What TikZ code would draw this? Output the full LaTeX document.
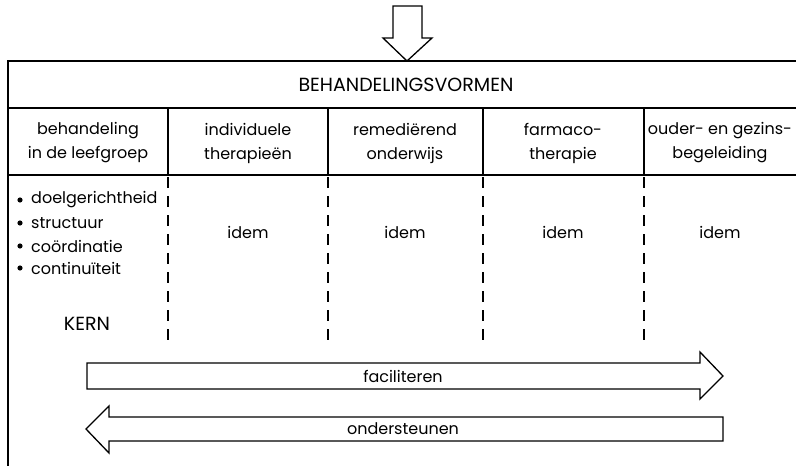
\documentclass[tikz,border=0pt]{standalone}
\usepackage{fontspec}
\setmainfont{Poppins}
\begin{document}
\begin{tikzpicture}[x=1pt,y=-1pt,
  frame/.style={line width=1.4pt},
  divider/.style={line width=1.8pt, dash pattern=on 11pt off 8pt},
  blockarrow/.style={line width=1.3pt, fill=white, line join=miter},
  txt/.style={font=\fontsize{16}{24}\selectfont, inner sep=0pt, align=center},
  captxt/.style={font=\fontsize{19}{24}\selectfont, inner sep=0pt, align=center},
  item/.style={font=\fontsize{16}{18}\selectfont, inner sep=0pt, anchor=west}]
\useasboundingbox (0,0) rectangle (796,466);
% top arrow
\draw[blockarrow] (393,6) -- (422,6) -- (422,38) -- (432,38) -- (407,61) -- (383,38) -- (393,38) -- cycle;
% frame
\draw[frame] (796,61) -- (8,61) -- (8,466);
\draw[frame] (8,108) -- (796,108);
\draw[frame] (8,175) -- (796,175);
\foreach \x in {168,328,483,644} {
  \draw[frame] (\x,108) -- (\x,175);
  \draw[divider] (\x,177) -- (\x,342);
}
\node[captxt] (title) at (406,85) {BEHANDELINGSVORMEN};
\node[txt] (h1) at (88,143) {behandeling\\in de leefgroep};
\node[txt] (h2) at (248,143) {individuele\\therapieën};
\node[txt] (h3) at (405,143) {remediërend\\onderwijs};
\node[txt] (h4) at (563,143) {farmaco-\\therapie};
\node[txt] (h5) at (720,143) {ouder- en gezins-\\begeleiding};
% bullets
\foreach \y/\t [count=\i] in {200/doelgerichtheid,223/structuur,246/coördinatie,268/continuïteit} {
  \fill (20,\y) circle [radius=2.6pt];
  \node[item] (b\i) at (31,\y) {\t};
}
\node[captxt] (kern) at (87,324) {KERN};
\foreach \x [count=\i] in {248,405,563,720} {
  \node[txt] (idem\i) at (\x,232) {idem};
}
% faciliteren arrow
\draw[blockarrow] (87,363) -- (700,363) -- (700,352) -- (723,376) -- (700,399) -- (700,389) -- (87,389) -- cycle;
\node[txt] (fac) at (403,376) {faciliteren};
% ondersteunen arrow
\draw[blockarrow] (723,417) -- (109,417) -- (109,406) -- (86,429) -- (109,453) -- (109,441) -- (723,441) -- cycle;
\node[txt] (ond) at (403,429) {ondersteunen};
\end{tikzpicture}
\end{document}
